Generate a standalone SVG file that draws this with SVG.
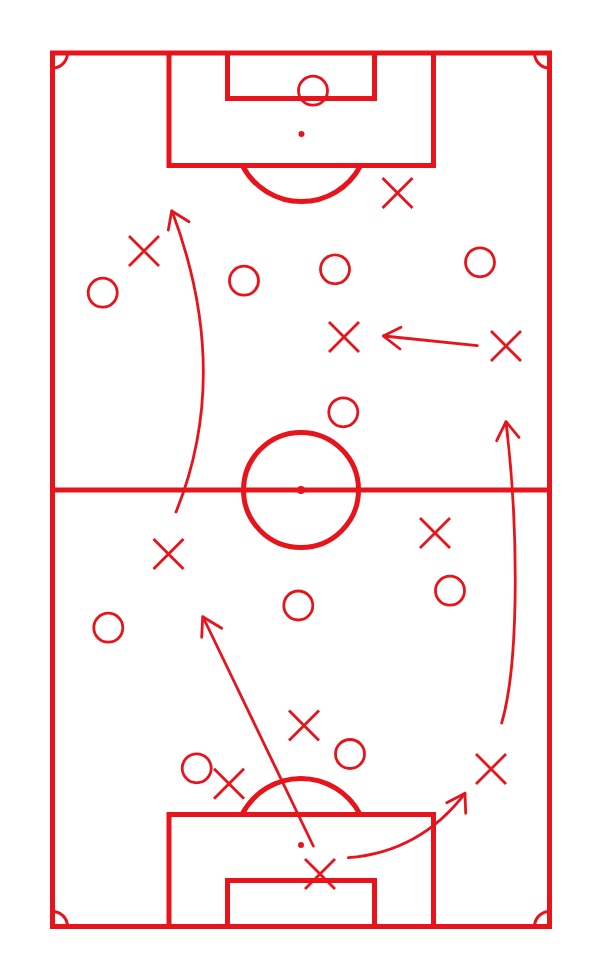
<svg xmlns="http://www.w3.org/2000/svg" width="603" height="980" viewBox="0 0 603 980">
<style>
.f{fill:none;stroke:#e8141b;stroke-width:5}
.c{fill:none;stroke:#e8141b;stroke-width:3}
.dot{fill:#e8141b}
.p{fill:none;stroke:#e8141b;stroke-width:2.8}
.x{fill:none;stroke:#e8141b;stroke-width:2.8}
.a{fill:none;stroke:#e8141b;stroke-width:2.8;stroke-linecap:round;stroke-linejoin:round}
</style>
<defs>
<path id="cross" d="M-15,-15L15,15M15,-15L-15,15"/>
</defs>
<rect width="603" height="980" fill="#ffffff"/>
<g id="pitch">
<rect class="f" x="52.5" y="53" width="497" height="873.5"/>
<line class="f" x1="52.5" y1="490" x2="549.5" y2="490"/>
<circle class="f" cx="301" cy="490" r="57.5"/>
<circle class="dot" cx="301" cy="490" r="4"/>
<path class="f" d="M169,53V165.5H433.5V53"/>
<path class="f" d="M227.5,53V98.5H374.5V53"/>
<circle class="dot" cx="301.5" cy="134" r="3"/>
<path class="f" d="M242.4,165.5A66.5,66.5 0 0 0 360.6,165.5"/>
<path class="f" d="M169,926.5V814.5H433.5V926.5"/>
<path class="f" d="M227.5,926.5V880.5H374.5V926.5"/>
<circle class="dot" cx="301" cy="845" r="3"/>
<path class="f" d="M241.9,814.5A66.5,66.5 0 0 1 360.1,814.5"/>
<path class="c" d="M67.5,53A15,15 0 0 1 52.5,68"/>
<path class="c" d="M534.5,53A15,15 0 0 0 549.5,68"/>
<path class="c" d="M67.5,926.5A15,15 0 0 0 52.5,911.5"/>
<path class="c" d="M534.5,926.5A15,15 0 0 1 549.5,911.5"/>
</g>
<g id="connectors">
<path class="a" d="M176,512Q232.6,372.5 172,211"/>
<path class="a" d="M168.3,230L171.7,211L189,221.7"/>
<path class="a" d="M477.3,345.7L384,336"/>
<path class="a" d="M401,327.3L383.3,336L400,349"/>
<path class="a" d="M501.7,723C520,660 518,520 506,422"/>
<path class="a" d="M496.7,440.7L506,421.7L519,437.3"/>
<path class="a" d="M313.3,846L203,617"/>
<path class="a" d="M201.7,637.3L202.7,616.7L221.7,628.3"/>
<path class="a" d="M348.3,857.7Q420,852 465,793.3"/>
<path class="a" d="M446.7,802.7L465,793.3L465.7,813.3"/>
</g>
<g id="player-o1"><circle class="p" cx="313" cy="90.7" r="14.5"/></g>
<g id="player-o2"><circle class="p" cx="102.7" cy="292.7" r="14.5"/></g>
<g id="player-o3"><circle class="p" cx="244" cy="280.7" r="14.5"/></g>
<g id="player-o4"><circle class="p" cx="335" cy="269.3" r="14.5"/></g>
<g id="player-o5"><circle class="p" cx="480" cy="262.3" r="14.5"/></g>
<g id="player-o6"><circle class="p" cx="343.3" cy="412.3" r="14.5"/></g>
<g id="player-o7"><circle class="p" cx="108.3" cy="627.7" r="14.5"/></g>
<g id="player-o8"><circle class="p" cx="298.3" cy="605.5" r="14.5"/></g>
<g id="player-o9"><circle class="p" cx="450" cy="590.7" r="14.5"/></g>
<g id="player-o10"><circle class="p" cx="350" cy="754" r="14.5"/></g>
<g id="player-o11"><circle class="p" cx="196.7" cy="768.3" r="14.5"/></g>
<g id="player-x1"><use href="#cross" class="x" x="144" y="251"/></g>
<g id="player-x2"><use href="#cross" class="x" x="397.5" y="193"/></g>
<g id="player-x3"><use href="#cross" class="x" x="344" y="337"/></g>
<g id="player-x4"><use href="#cross" class="x" x="506" y="346"/></g>
<g id="player-x5"><use href="#cross" class="x" x="168.5" y="554"/></g>
<g id="player-x6"><use href="#cross" class="x" x="435" y="533"/></g>
<g id="player-x7"><use href="#cross" class="x" x="304" y="725.5"/></g>
<g id="player-x8"><use href="#cross" class="x" x="229" y="783.7"/></g>
<g id="player-x9"><use href="#cross" class="x" x="491" y="769"/></g>
<g id="player-x10"><use href="#cross" class="x" x="320" y="874"/></g>
</svg>
